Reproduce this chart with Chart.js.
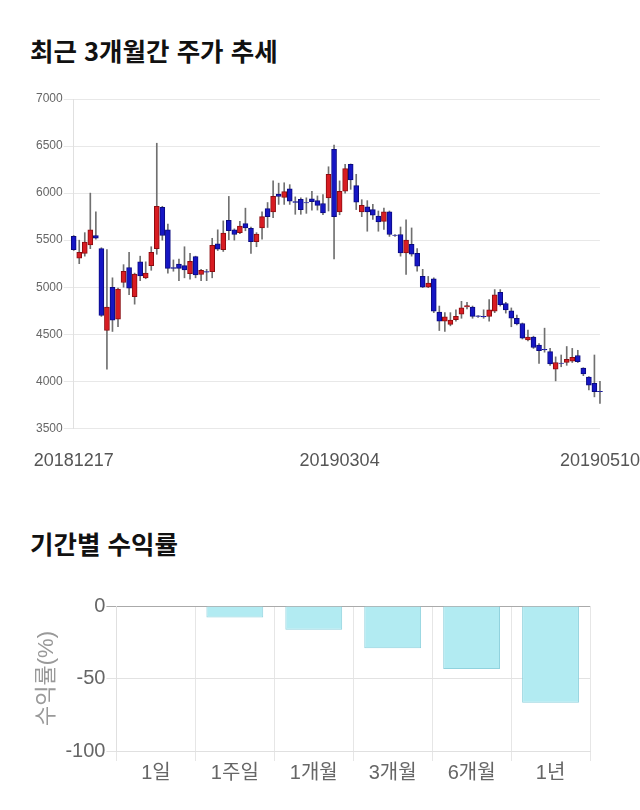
<!DOCTYPE html>
<html lang="ko">
<head>
<meta charset="utf-8">
<title>주가 추세</title>
<script src="https://cdn.jsdelivr.net/npm/chart.js@4.4.1/dist/chart.umd.min.js"></script>
<style>
    body { margin: 0; background: #fff; width: 640px; height: 810px; position: relative; overflow: hidden; }
    h2 { position: absolute; left: 30px; margin: 0; font-family: "Noto Sans CJK KR", sans-serif; font-size: 25.5px; line-height: 26px; font-weight: bold; color: #111; white-space: nowrap; }
    .box { position: absolute; left: 0; width: 640px; }
</style>
</head>
<body>
<h2 style="top: 37px;">최근 3개월간 주가 추세</h2>
<div class="box" style="top: 80px; height: 401px;"><canvas id="priceChart" width="640" height="401"></canvas></div>

<h2 style="top: 530px;">기간별 수익률</h2>
<div class="box" style="top: 570px; height: 220px;"><canvas id="returnChart" width="640" height="220"></canvas></div>

<script>
// trading days shown on the price chart
const dates = [
    '20181217', '20181218', '20181219', '20181220', '20181221', '20181224', '20181226', '20181227', '20181228',
    '20190102', '20190103', '20190104', '20190107', '20190108', '20190109', '20190110', '20190111',
    '20190114', '20190115', '20190116', '20190117', '20190118', '20190121', '20190122', '20190123',
    '20190124', '20190125', '20190128', '20190129', '20190130', '20190131',
    '20190201', '20190207', '20190208', '20190211', '20190212', '20190213', '20190214', '20190215',
    '20190218', '20190219', '20190220', '20190221', '20190222', '20190225', '20190226', '20190227', '20190228',
    '20190304', '20190305', '20190306', '20190307', '20190308', '20190311', '20190312', '20190313',
    '20190314', '20190315', '20190318', '20190319', '20190320', '20190321', '20190322', '20190325',
    '20190326', '20190327', '20190328', '20190329',
    '20190401', '20190402', '20190403', '20190404', '20190405', '20190408', '20190409', '20190410',
    '20190411', '20190412', '20190415', '20190416', '20190417', '20190418', '20190419', '20190422',
    '20190423', '20190424', '20190425', '20190426', '20190429', '20190430',
    '20190502', '20190503', '20190507', '20190508', '20190509', '20190510',
];

const opens = [
    5540, 5310, 5360, 5450, 5550, 5410, 4540, 5000, 4660, 5050, 5210, 4900, 5270, 5100, 5230, 5410,
    5850, 5610, 5210, 5245, 5230, 5145, 5325, 5135, 5165, 5165, 5460, 5400, 5710, 5610, 5580, 5675,
    5625, 5485, 5630, 5835, 5800, 5990, 5955, 6045, 5910, 5935, 5900, 5940, 5920, 5890, 5950, 6465,
    5800, 6020, 6305, 6080, 5800, 5855, 5825, 5755, 5700, 5800, 5555, 5560, 5365, 5455, 5360, 5115,
    5000, 5090, 4735, 4640, 4605, 4655, 4715, 4790, 4790, 4695, 4690, 4690, 4745, 4945, 4825, 4750,
    4670, 4615, 4440, 4470, 4385, 4340, 4315, 4130, 4195, 4200, 4215, 4275, 4140, 4045, 3980, 3895,
];
const highs = [
    5550, 5500, 5580, 6000, 5800, 5420, 5400, 5100, 4990, 5240, 5370, 5150, 5330, 5270, 5430, 6530,
    5860, 5670, 5290, 5300, 5430, 5360, 5330, 5190, 5190, 5520, 5610, 5705, 5965, 5620, 5700, 5840,
    5640, 5580, 5800, 5900, 6130, 6106, 6110, 6090, 5960, 5950, 5950, 6020, 5970, 5985, 6280, 6510,
    6130, 6305, 6310, 6200, 5930, 5920, 5880, 5810, 5840, 5810, 5560, 5640, 5715, 5630, 5410, 5190,
    5115, 5100, 4800, 4730, 4730, 4760, 4850, 4840, 4800, 4700, 4760, 4870, 4975, 4975, 4840, 4780,
    4705, 4620, 4545, 4480, 4400, 4565, 4350, 4260, 4280, 4370, 4350, 4330, 4145, 4050, 4280, 4000,
];
const lows = [
    5390, 5250, 5330, 5410, 5510, 4690, 4130, 4530, 4580, 5000, 4920, 4820, 5070, 5090, 5180, 5350,
    5500, 5150, 5170, 5070, 5100, 5085, 5100, 5070, 5070, 5100, 5390, 5380, 5505, 5500, 5570, 5600,
    5360, 5430, 5510, 5635, 5740, 5880, 5880, 5880, 5775, 5775, 5785, 5820, 5820, 5770, 5810, 5300,
    5770, 6000, 6040, 5825, 5750, 5595, 5720, 5595, 5615, 5540, 5540, 5330, 5135, 5330, 5170, 4995,
    4995, 4730, 4540, 4530, 4590, 4640, 4670, 4770, 4670, 4680, 4670, 4640, 4730, 4800, 4725, 4580,
    4600, 4450, 4430, 4350, 4190, 4310, 4170, 4005, 4155, 4170, 4200, 4200, 4060, 3910, 3835, 3765,
];
const closes = [
    5400, 5370, 5480, 5610, 5520, 4700, 4790, 4650, 4980, 5170, 4990, 5140, 5120, 5150, 5370, 5860,
    5550, 5200, 5200, 5200, 5185, 5275, 5130, 5180, 5160, 5445, 5405, 5575, 5600, 5560, 5650, 5630,
    5485, 5565, 5750, 5750, 5965, 5965, 6015, 5915, 5900, 5825, 5895, 5910, 5870, 5790, 6200, 5750,
    6020, 6260, 6140, 5905, 5870, 5800, 5765, 5695, 5800, 5560, 5550, 5365, 5500, 5350, 5225, 5000,
    5045, 4745, 4640, 4685, 4650, 4690, 4780, 4805, 4690, 4690, 4685, 4760, 4920, 4815, 4760, 4670,
    4610, 4460, 4470, 4360, 4325, 4335, 4185, 4200, 4190, 4235, 4255, 4210, 4080, 3960, 3890, 3890,
];
const shownDates = ['20181217', '20190304', '20190510'];

// period returns (%)
const periods = ['1일', '1주일', '1개월', '3개월', '6개월', '1년'];
const returns = [0, -8, -16.4, -29.1, -43.4, -66.8];

const numFont = '"Liberation Sans", "Noto Sans CJK KR", sans-serif';
const UP = '#d81c22';
const DOWN = '#1616c4';

document.addEventListener('DOMContentLoaded', () => {
    const bodies = opens.map((o, i) => [o, closes[i]]);
    const wicks = lows.map((l, i) => [l, highs[i]]);
    const rising = closes.map((c, i) => c > opens[i]);

    // candles: floating bars for the bodies, thin floating bars for the wicks
    new Chart(document.getElementById('priceChart'), {
        type: 'bar',
        data: {
            labels: dates,
            datasets: [
                {
                    data: bodies,
                    backgroundColor: rising.map(r => r ? UP : DOWN),
                    borderColor: rising.map(r => r ? '#8c0c10' : '#0a0a80'),
                    borderWidth: 1,
                    borderSkipped: false,
                    barThickness: 5,
                    grouped: false,
                    clip: false,
                },
                {
                    data: wicks,
                    backgroundColor: '#707070',
                    barThickness: 1,
                    grouped: false,
                    clip: false,
                },
            ],
        },
        options: {
            responsive: false,
            animation: false,
            plugins: { legend: { display: false }, tooltip: { enabled: false } },
            layout: { padding: { left: 35, top: 19, right: 3, bottom: 9 } },
            scales: {
                x: {
                    offset: false,
                    // invisible tick marks give the gap under the axis without widening side padding
                    grid: { color: 'rgba(0,0,0,0)', drawOnChartArea: false, drawTicks: true, tickLength: 22 },
                    border: { display: false },
                    ticks: {
                        autoSkip: false,
                        maxRotation: 0,
                        minRotation: 0,
                        padding: 0,
                        color: '#555',
                        font: { family: numFont, size: 18 },
                        callback: (v, i) => shownDates.includes(dates[i]) ? dates[i] : '',
                    },
                },
                y: {
                    min: 3500,
                    max: 7000,
                    grid: { color: '#e8e8e8', tickLength: 10 },
                    border: { color: '#e0e0e0' },
                    ticks: {
                        stepSize: 500,
                        padding: 1,
                        color: '#666',
                        font: { family: numFont, size: 12 },
                        callback: v => String(v),
                    },
                },
            },
        },
    });

    new Chart(document.getElementById('returnChart'), {
        type: 'bar',
        data: {
            labels: periods,
            datasets: [{
                data: returns,
                backgroundColor: '#b2ebf2',
                borderColor: '#90d2de',
                borderWidth: 1,
            }],
        },
        options: {
            responsive: false,
            animation: false,
            plugins: { legend: { display: false }, tooltip: { enabled: false } },
            layout: { padding: { left: 30, top: 36, right: 50, bottom: 5 } },
            scales: {
                x: {
                    grid: { color: '#e6e6e6', tickLength: 10 },
                    border: { color: '#e0e0e0' },
                    ticks: {
                        padding: 0,
                        color: '#666',
                        font: { family: numFont, size: 20 },
                    },
                },
                y: {
                    min: -100,
                    max: 0,
                    grid: {
                        color: ctx => ctx.tick && ctx.tick.value === 0 ? '#aaa' : '#e2e2e2',
                        tickLength: 10,
                    },
                    border: { color: '#e0e0e0' },
                    ticks: {
                        stepSize: 50,
                        padding: 1,
                        color: '#666',
                        font: { family: numFont, size: 20 },
                    },
                    title: {
                        display: true,
                        text: '수익률(%)',
                        color: '#999',
                        font: { family: numFont, size: 22 },
                    },
                },
            },
        },
    });
});
</script>
</body>
</html>
